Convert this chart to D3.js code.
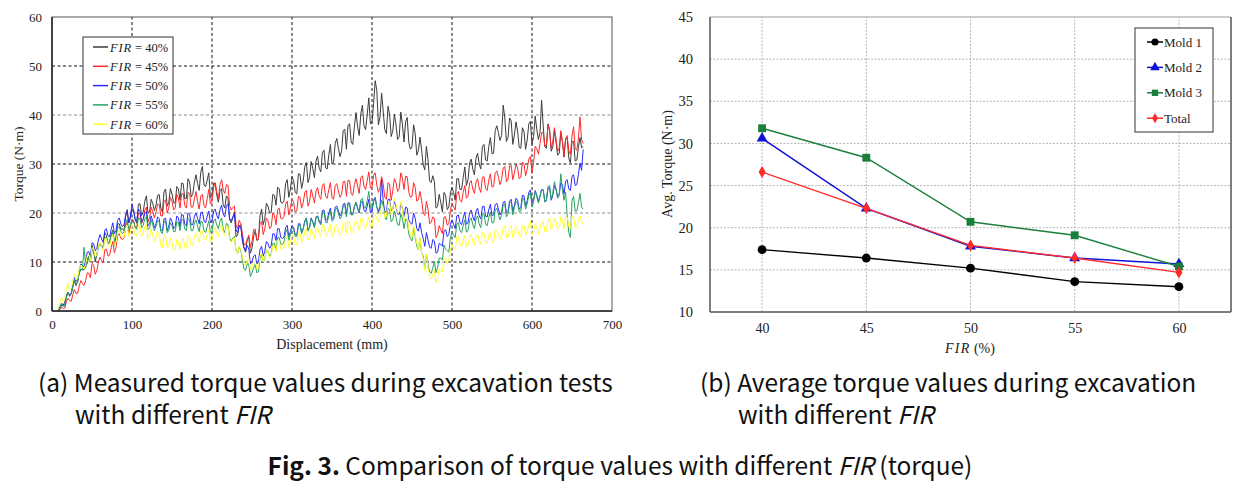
<!DOCTYPE html>
<html><head><meta charset="utf-8">
<script src="https://cdn.jsdelivr.net/npm/d3@7"></script>
<style>body{margin:0;background:#fff} svg{display:block}</style>
</head><body>
<svg id="c" width="1251" height="486"></svg>
<script>
// ---------- (a) measured torque ----------
// samples read at 8,12,...,664 mm (A) and at 10,14,...,662 mm (B)
const displacementA = d3.range(8, 665, 4);
const displacementB = d3.range(10, 663, 4);
const fir40 = [
0,1.5,1.8,3.8,3.5,6.2,6,8.5,8.4,10.6,
10,12.3,11.5,13.9,13,15.4,14.2,16.5,15.2,17.8,
16.8,19.2,18,20.8,18.7,21.8,19.5,22.4,20,22.8,
20.5,23.6,21,24.3,21.4,25,22.1,25.4,22.6,26,
23,26.3,23.8,27.8,24.6,29.5,25.4,28.2,23.6,26,
22.2,25,21,23,18,20.2,15.5,17.6,12.8,14.6,
11.8,15.2,14.4,19.5,17.6,22,20,23.8,21.6,25,
22,26,23.2,27.4,24.2,28,25,29.5,26.2,30.5,
27.2,31.6,28.4,32.8,29,34,30.4,35.2,31.5,36.8,
33,38.2,34,40.5,35.8,42,37,43.5,38.4,47,
38,44.5,37,41.8,35.6,40.2,35,40.6,34.5,39.5,
33,38,31.8,35.5,29.8,33.6,26.5,27.6,21,23.8,
20.2,23.6,21.2,25.2,22.6,27,24.8,29.4,26.8,31,
27.8,32.2,29,34,30.6,35.4,32.2,37.8,34.8,42,
34.6,39.4,34,38.6,33.4,37.4,33,38.2,34,39.8,
35,43,33.5,38.2,32.6,36.8,31.8,36.4,31.4,35.2,
30.2,34.6,30.8,35.4,33.6];
const fir40mid = [
1,1.2,3.3,3,5,5.2,7.8,8.4,8.9,11.2,
13.4,10,13.2,13.2,16,13.7,15.6,13.4,17.8,16.7,
16.4,20.7,18.9,20.6,17.9,21.9,20.2,23.5,20.2,21.9,
21.6,23.8,20.2,24.9,22.2,23.9,22,24.9,26.1,22.9,
27,23.3,26.3,26,28.4,25.7,26.7,23.1,26.1,23.6,
24.6,21.7,23.5,18.6,19,15.1,17.3,14.2,12,15.1,
12.8,16.4,14.6,20.8,18.9,21.4,20.1,23.6,25.2,22.2,
22.5,26.8,24.9,26.6,23.9,27.9,26.5,30.3,27.3,29.1,
30.6,29.1,32.3,29.2,31.8,30,34.2,33.2,32.7,37.1,
37.9,34.5,37.7,37.6,40.2,37.8,40,38.2,42.4,45,
39.6,40.8,36.2,40.1,36.8,38,35.6,38.1,38.6,34.4,
33.5,36.2,32.7,32.9,28.8,30.9,26.2,26.4,21.3,22.1,
24.2,20.7,24.1,24.2,27,24.8,27.2,25.6,30.2,28.9,
31.2,30,33.6,30.8,33.6,32.1,36.8,36.4,35.8,39.4,
35.4,38.8,35.9,36.7,33.2,36.6,34.9,38.7,35.6,37,
36.4,37.8,33.2,37,33.5,34.5,32.1,34.6,35.2,31.2,
34.6,30.6,33.4,33.3];
const fir45 = [
0,0.8,0.6,2.6,2,4.4,3.6,6.2,5.2,7.8,
6.8,9.4,8.2,11,9.8,12.6,11.4,14.2,13,15.8,
14.6,17.4,15.8,18.6,17,20,17.8,20.6,18.2,21.2,
19,21.8,19.4,22.4,20,23.2,20.6,23.8,21,24,
21,24,21.2,24.4,20.8,23.8,21,24.8,22.4,26.2,
23,26.8,24,25.6,20.6,21.4,16.8,17.8,13.6,14.6,
13,16.6,14.6,17.8,15.6,19,16.8,20,17.6,21,
18.8,21.8,19.6,22.8,20.2,23.4,21,24.2,21.4,24.8,
22,25.2,22.8,26,23,26.2,22.8,26,23.2,26.4,
23.4,26.6,23.6,27,24,27.6,24.8,28.4,25.2,28.2,
24.2,27.4,23.2,26.2,22.6,27,24.4,28.2,24.8,27.4,
23.2,26.2,22.4,24.4,20,22.4,17.8,19.2,15,17.4,
15.8,19.2,17.8,22,20.6,24.4,22.2,25.6,23.4,26.6,
24,27,24.2,27.4,24.6,28,25.4,28.6,25.8,29.2,
26.4,29.6,26.8,30,27,30.4,27.6,31,28.2,33.6,
32,36.4,33.6,38,33.2,37.4,32.6,36.8,31.6,35.8,
32,37.6,32.8,39.6,34.2];
const fir45mid = [
0.3,0.5,2,2.1,3.3,3.6,5.1,5.6,6.2,7.7,
9.7,7.5,10,10.3,12.5,11.2,12.9,11.9,15.4,14.8,
14.9,18.1,17,18.4,16.9,19.9,18.8,21.2,19,20.2,
20.2,21.8,19.4,22.7,21,22.4,21,23.1,23.9,21.5,
24.2,21.2,22.9,22.3,23.5,21.5,22.9,21.9,25.2,24.2,
25.8,24.7,25.8,21.5,21.1,17.6,18.5,15.8,13.6,15.5,
14.2,16.7,14.7,18.3,16.8,18.4,17.2,19.5,20.7,18.9,
19.3,22.4,21.1,22.2,20.4,23.2,22.1,24.6,22.4,23.5,
24.5,23.4,25.7,23.4,24.8,23.1,25.6,24.5,23.8,26.5,
26.7,23.9,25.8,25.5,27.2,25.4,26.6,25.1,27.7,25.7,
25.2,26,22.8,25.9,24.6,26.2,25,27.1,27.5,24.3,
23.4,25.2,22.7,22.6,19.5,20.8,18.1,18.9,15.6,16.6,
19.2,17.5,20.5,21.3,23.8,22.6,24.2,23,26.1,24.9,
26.3,25.1,27.3,25,26.7,25.3,28.1,27.3,26.8,29.5,
26.9,29.7,28.2,29.2,27.3,30,28.9,31.5,30.3,33.1,
34.2,36.4,34,36.8,34.5,35.2,33.2,34.7,35.1,32.7,
35.7,33.1,35.2,34.9];
const fir50 = [
0,1.2,1.2,3.8,3.6,6.8,6.4,9.6,9,12,
11,13.8,12.8,15.6,14,16.8,15.2,18,16.4,19,
17.2,19.6,18,21.8,18.6,20.8,18.2,20,17.4,19.4,
17,19.2,16.6,18.8,16.4,19,16.8,19.4,17.2,19.6,
17.4,19.8,17.6,20,17.8,20.2,18,20.4,18.4,20.8,
18.8,21.6,19.2,21.8,18.4,19.8,16,17,13,13.4,
9.6,11.2,9.6,12.6,11.2,14.2,12.8,15.8,14.4,16.8,
14.8,17,15.2,17.4,15.6,17.8,16,18.4,16.4,19,
17.2,19.4,17.8,20.6,18.6,21,19,21.4,19.4,21.8,
19.6,22,19.8,22.2,20,22.4,20.2,22.8,20.4,23.2,
20.4,26.8,20.2,22.8,20.4,22.4,19.8,22,19.2,21,
18,20,16.8,18,14.8,16,13,14.6,11.8,13.8,
13.2,16.6,15.6,18.6,16.8,19.6,17.6,20.2,18,20.6,
18.4,21,18.8,21.4,19.2,21.8,19.6,22,19.6,22.2,
20,22.4,20.2,23,20.8,23.6,21.4,24.2,22,24.6,
22.4,24.8,22.4,25,22.6,25.6,23.4,26.2,23.8,26.8,
24.6,27.8,25.8,30.2,33];
const fir50mid = [
0.5,1,2.9,3.3,5.2,6,8.3,9.3,10.2,12.1,
13.9,12.3,14.5,14.7,16.5,15.3,16.7,15.8,18.5,17.8,
17.6,20.3,19.4,20.4,18.4,20.3,18.7,20.3,17.8,18.3,
17.8,18.8,16.3,18.9,17.3,18.3,17.2,19,19.7,17.7,
20,17.6,19.3,18.9,20.1,18.4,19.3,18,20.4,19.5,
20.7,19.8,21.5,18.9,19.2,16.6,17.5,14.9,12.3,12.6,
10.1,11.5,9.9,13.2,12.2,13.8,13.3,15.7,16.8,15,
15.1,17.5,16.2,17.1,15.5,17.8,16.8,19,17.1,18.2,
19.2,18.4,20.5,18.6,20,18.8,21.2,20.4,19.8,22,
22.1,19.7,21.3,20.9,22.2,20.5,21.4,20,22.3,21.2,
21.3,22.5,20.2,22.8,20.8,21.3,19.7,21,21.2,18.6,
17.7,18.9,16.3,16,13.2,14.5,12.8,14.3,12,13.6,
16.3,15.2,17.7,17.7,19.4,18,19,17.7,20.1,19.2,
20.4,19.4,21.3,19.3,20.7,19.4,21.7,20.8,20.2,22.4,
20.3,22.8,21.6,22.6,21.1,23.5,22.5,24.7,22.7,23.6,
23.4,24.7,22.5,25.2,23.6,24.8,23.8,25.7,26.5,24.9,
27.5,25.6,27.9,28.7];
const fir55 = [
0,1.6,1,3.8,3.4,6.2,5.8,8.6,13,9.6,
10,12.2,11.4,13.8,12.8,15,14,16.2,15.2,17.2,
15.8,17.8,16.6,18.8,17,19,17,18.8,16.6,18.6,
16.4,18.4,16.2,18.2,16,18,16.2,18.2,16.4,18.6,
16.4,18.6,16.4,18.6,16.2,18.2,16,18.4,16.4,18.8,
16.8,19,16,17.6,14.2,15.2,11.8,12.4,8.6,9.6,
7,8.8,7.8,10.8,9.8,12.4,11.2,13.8,12.6,15,
13.6,16,14.4,17,15.2,17.4,15.8,18.2,16.4,18.8,
17,19.4,17.6,20.2,18,20.4,18.6,21,18.8,21.4,
19.2,21.8,19.6,22.2,20.2,23,21,24.4,21,23,
20,22.6,19.2,21,18.2,20.4,17.6,19.8,16.8,18.4,
14.8,17,13.2,14.8,11.2,11.6,8,8.8,7.8,10.8,
10.4,12.6,12,16,15,18,16,18.6,16.4,19,
16.8,19.4,17,19.8,17.4,20.2,18,21,18.6,21.6,
19.2,22,19.6,22.4,20.2,23,20.8,23.6,21.2,24.4,
22,24.8,22.2,25.4,22.8,26.4,23,28,22.6,19.5,
15,23.4,20.4,24,20.8];
const fir55mid = [
0.6,1.1,2.9,3.2,4.9,5.5,7.6,8.4,9.3,11,
12.4,10.7,13,13.2,15,13.8,15.2,14.3,17,16.3,
16.1,18.7,17.6,18.5,16.7,18.8,17.5,19.3,17,17.6,
17.3,18.3,15.8,18.3,16.5,17.4,16.2,18,18.7,16.7,
18.9,16.4,17.9,17.3,18.3,16.4,17.2,16,18.4,17.5,
18.4,16.7,17.9,14.9,14.9,12.3,13.1,10.4,8.3,9.6,
7.8,9.5,8,11.6,10.7,12.2,11.6,13.8,15,13.6,
14.1,16.7,15.6,16.7,15.2,17.6,16.7,19,17.1,18.1,
19,18.1,20.1,18.1,19.5,18.3,20.7,19.9,19.4,21.7,
21.9,19.6,21.3,21.1,22.7,21.3,22.5,21,22.8,21.2,
20.8,21.5,18.6,20.7,18.6,19.1,17.5,18.9,18.8,15.7,
14.3,15.2,12.5,11.8,8.6,9.5,7.7,10.1,8.9,10.8,
13.5,12.3,15,15.5,17.7,16.4,17.4,16.1,18.5,17.6,
18.8,17.8,19.7,17.7,19.1,18,20.5,19.8,19.5,21.8,
19.8,22.3,21.1,22,20.4,22.8,21.9,24.2,22.3,23.3,
23.3,24.8,22.8,25.6,24,25,23.6,24.8,24.2,16,
22.6,20.4,22,21.2];
const fir60 = [
0.5,2.8,2.4,5.6,4.6,7.6,6.6,9.4,8.6,11.2,
10.2,12.8,11.4,14,12.4,14.8,13.2,15.6,14,16.4,
14.8,17,15.2,17.6,15.4,17.6,15.2,17.2,14.8,16.8,
14.2,16.2,13.4,15.6,13,15,12.4,14.6,12.6,14.8,
12.8,15.2,13.4,15.8,14,16.4,14.4,16.6,14.4,17,
15.2,17.6,15.4,17.2,14,15,11.8,12.6,9.6,10.4,
8.4,10.2,8.6,11.2,10,12.4,10.8,13.4,12,14.4,
12.6,14.8,13,15.4,13.6,15.8,14,16.2,14.4,16.8,
14.8,17,15.2,17.4,15.4,17.6,15.4,17.6,15.4,17.8,
15.8,18,16,18.4,16.4,18.8,16.8,19.2,17.4,19.8,
18.2,20.8,19,21.8,19.6,23,20,22.4,18.2,19.6,
15.6,17.6,13.8,15,10.8,11.6,7,7.4,5.8,8.6,
8,10.6,10.4,13.6,12.6,15.2,13.2,15.4,13.4,15.6,
13.4,15.6,13.6,15.8,13.8,16,14,16.4,14.6,17,
15,17,15,17.2,15.2,17.4,15.4,17.6,15.6,17.8,
15.8,18.2,16.2,18.6,16.6,19,16.8,19.2,16.8,19.2,
16.8,19.2,17,19.4,17.8];
const fir60mid = [
1.6,2.1,4.5,4.4,6.1,6.3,8.6,9,9.5,11.5,
12.9,11.1,13.2,13.1,14.7,13.3,14.5,13.4,16,15.3,
15.1,17.5,16.2,17,15.2,17.3,15.9,17.7,15.2,15.5,
14.8,15.6,12.9,15.2,13.2,13.9,12.5,14.1,14.8,13,
15.4,13.3,15.2,15,16.4,14.8,15.6,14.1,16.5,15.8,
17.1,15.9,17.4,14.5,14.7,12.3,13.3,11.1,9.3,10.7,
9,10.4,8.6,11.9,10.7,12,11.2,13.3,14.4,12.7,
12.9,15.3,14.2,15.1,13.5,15.8,14.8,17,15,15.9,
16.7,15.7,17.6,15.5,16.7,15.3,17.5,16.5,15.9,18.2,
18.4,16.1,17.8,17.5,18.9,17.3,18.3,17,19.5,18.8,
19.5,21.2,19.4,22.4,20.9,21.8,20.2,20.8,20,16.6,
15,15.6,12.6,11.7,8.3,8.9,6.6,8.4,6.8,8.5,
11,9.7,12.4,13,15,13.5,14.5,13.1,15.3,14.2,
15.3,14.2,16.1,14,15.3,14.1,16.5,15.7,15.2,17.4,
15.1,17.5,16.1,16.9,15.2,17.4,16.3,18.4,16.3,17.1,
16.9,18.3,16.2,19,17.4,18.3,17,18.6,19.2,17.2,
19.4,17.1,18.7,18.4];
const firSeries = [[fir40, fir40mid], [fir45, fir45mid], [fir50, fir50mid], [fir55, fir55mid], [fir60, fir60mid]];
const firLabels = ["40%", "45%", "50%", "55%", "60%"];
const firColors = ["#3d3d3d", "#ff2a2a", "#2b2bff", "#27a35f", "#ffff2e"];
const leftXTicks = [0, 100, 200, 300, 400, 500, 600, 700];
const leftYTicks = [0, 10, 20, 30, 40, 50, 60];

// ---------- (b) average torque ----------
const firCategories = [40, 45, 50, 55, 60];
const mold1 = [17.4, 16.4, 15.2, 13.6, 13.0];
const mold2 = [30.6, 22.3, 17.8, 16.4, 15.7];
const mold3 = [31.8, 28.3, 20.7, 19.1, 15.4];
const totalAvg = [26.6, 22.3, 17.9, 16.4, 14.7];
const avgNames = ["Mold 1", "Mold 2", "Mold 3", "Total"];
const avgColors = ["#000000", "#1010d8", "#1b7f3c", "#ff2a2a"];
const rightYTicks = [10, 15, 20, 25, 30, 35, 40, 45];

const svg = d3.select("#c");
const serif = "'Liberation Serif','Times New Roman',Times,serif";
const sans = "'Noto Sans CJK KR','Noto Sans',sans-serif";

// ================= LEFT CHART =================
const xL = d3.scaleLinear().domain([0, 700]).range([52, 612]);
const yL = d3.scaleLinear().domain([0, 60]).range([311, 17]);
const gL = svg.append("g");

gL.selectAll("line.vg").data(leftXTicks.filter(d => d > 0 && d < 700)).join("line")
  .attr("x1", d => xL(d)).attr("x2", d => xL(d)).attr("y1", yL(0)).attr("y2", yL(60))
  .attr("stroke", "#111").attr("stroke-width", 1).attr("stroke-dasharray", "3,2.5");
gL.selectAll("line.hg").data(leftYTicks.filter(d => d > 0 && d < 60)).join("line")
  .attr("x1", xL(0)).attr("x2", xL(700)).attr("y1", d => yL(d)).attr("y2", d => yL(d))
  .attr("stroke", d => (d % 20 === 0) ? "#8a8a8a" : "#111").attr("stroke-width", 1)
  .attr("stroke-dasharray", "3,2.5");

const lineL = d3.line().x(d => xL(d[0])).y(d => yL(d[1]));
firSeries.forEach(([a, b], k) => {
  const pts = a.map((v, i) => [displacementA[i], v])
    .concat(b.map((v, i) => [displacementB[i], v]))
    .sort((p, q) => p[0] - q[0]);
  gL.append("path").datum(pts).attr("d", lineL).attr("fill", "none")
    .attr("stroke", firColors[k]).attr("stroke-width", 1).attr("stroke-linejoin", "round");
});

gL.append("rect").attr("x", xL(0)).attr("y", yL(60)).attr("width", xL(700) - xL(0)).attr("height", yL(0) - yL(60))
  .attr("fill", "none").attr("stroke", "#555").attr("stroke-width", 1);
gL.append("line").attr("x1", xL(0)).attr("x2", xL(0)).attr("y1", yL(0)).attr("y2", yL(60)).attr("stroke", "#222").attr("stroke-width", 1.5);
gL.append("line").attr("x1", xL(0)).attr("x2", xL(700)).attr("y1", yL(0)).attr("y2", yL(0)).attr("stroke", "#222").attr("stroke-width", 1.5);

const axL = d3.axisBottom(xL).tickValues(leftXTicks).tickSize(0).tickPadding(9);
gL.append("g").attr("transform", `translate(0,${yL(0)})`).call(axL)
  .call(g => g.select(".domain").remove())
  .selectAll("text").style("font-family", serif).style("font-size", "13px").attr("fill", "#222");
const ayL = d3.axisLeft(yL).tickValues(leftYTicks).tickSize(0).tickPadding(10);
gL.append("g").attr("transform", `translate(${xL(0)},0)`).call(ayL)
  .call(g => g.select(".domain").remove())
  .selectAll("text").style("font-family", serif).style("font-size", "13px").attr("fill", "#222");

gL.append("text").attr("x", 332).attr("y", 349).attr("text-anchor", "middle")
  .style("font-family", serif).style("font-size", "14px").attr("fill", "#222").text("Displacement (mm)");
gL.append("text").attr("transform", "translate(23,164) rotate(-90)").attr("text-anchor", "middle")
  .style("font-family", serif).style("font-size", "13.5px").attr("fill", "#222").text("Torque (N·m)");

const lgL = gL.append("g");
lgL.append("rect").attr("x", 83).attr("y", 37).attr("width", 90).attr("height", 97)
  .attr("fill", "#fff").attr("stroke", "#333").attr("stroke-width", 1);
firLabels.forEach((lab, i) => {
  const yy = 47 + i * 19.3;
  lgL.append("line").attr("x1", 93).attr("x2", 108).attr("y1", yy).attr("y2", yy)
    .attr("stroke", firColors[i]).attr("stroke-width", 1.5);
  const t = lgL.append("text").attr("x", 110).attr("y", yy + 4.5)
    .style("font-family", serif).style("font-size", "12.5px").attr("fill", "#222");
  t.append("tspan").style("font-style", "italic").attr("letter-spacing", 0.8).text("FIR");
  t.append("tspan").text(" = " + lab);
});

// ================= RIGHT CHART =================
const xR = d3.scaleLinear().domain([37.5, 62.5]).range([710, 1231]);
const yR = d3.scaleLinear().domain([10, 45]).range([312, 17]);
const gR = svg.append("g");

gR.selectAll("line.vg").data(firCategories).join("line")
  .attr("x1", d => xR(d)).attr("x2", d => xR(d)).attr("y1", yR(10)).attr("y2", yR(45))
  .attr("stroke", "#b5b5b5").attr("stroke-width", 1).attr("stroke-dasharray", "2,1.5");
gR.selectAll("line.hg").data(rightYTicks.filter(d => d > 10 && d < 45)).join("line")
  .attr("x1", xR(37.5)).attr("x2", xR(62.5)).attr("y1", d => yR(d)).attr("y2", d => yR(d))
  .attr("stroke", "#b5b5b5").attr("stroke-width", 1).attr("stroke-dasharray", "2,1.5");

gR.append("line").attr("x1", xR(37.5)).attr("x2", xR(62.5)).attr("y1", yR(45)).attr("y2", yR(45)).attr("stroke", "#999").attr("stroke-width", 1);
gR.append("line").attr("x1", xR(62.5)).attr("x2", xR(62.5)).attr("y1", yR(10)).attr("y2", yR(45)).attr("stroke", "#555").attr("stroke-width", 1.5);
gR.append("line").attr("x1", xR(37.5)).attr("x2", xR(37.5)).attr("y1", yR(10)).attr("y2", yR(45)).attr("stroke", "#555").attr("stroke-width", 1.5);
gR.append("line").attr("x1", xR(37.5)).attr("x2", xR(62.5)).attr("y1", yR(10)).attr("y2", yR(10)).attr("stroke", "#555").attr("stroke-width", 1.5);

const axR = d3.axisBottom(xR).tickValues(firCategories).tickSize(0).tickPadding(11);
gR.append("g").attr("transform", `translate(0,${yR(10)})`).call(axR)
  .call(g => g.select(".domain").remove())
  .selectAll("text").style("font-family", serif).style("font-size", "14px").attr("fill", "#222");
const ayR = d3.axisLeft(yR).tickValues(rightYTicks).tickSize(0).tickPadding(17);
gR.append("g").attr("transform", `translate(${xR(37.5)},0)`).call(ayR)
  .call(g => g.select(".domain").remove())
  .selectAll("text").style("font-family", serif).style("font-size", "14.5px").attr("fill", "#222");

const xlabR = gR.append("text").attr("x", 970).attr("y", 353).attr("text-anchor", "middle")
  .style("font-family", serif).style("font-size", "14px").attr("fill", "#222");
xlabR.append("tspan").style("font-style", "italic").attr("letter-spacing", 1.2).text("FIR");
xlabR.append("tspan").text(" (%)");
gR.append("text").attr("transform", "translate(672,164) rotate(-90)").attr("text-anchor", "middle")
  .style("font-family", serif).style("font-size", "14px").attr("fill", "#222").text("Avg. Torque (N·m)");

const avgSeries = [mold1, mold2, mold3, totalAvg];
const symTypes = [d3.symbolCircle, d3.symbolTriangle, d3.symbolSquare, d3.symbolDiamond];
const symSizes = [62, 52, 62, 42];
const lineR = d3.line().x((d, i) => xR(firCategories[i])).y(d => yR(d));
avgSeries.forEach((s, k) => {
  gR.append("path").datum(s).attr("d", lineR).attr("fill", "none")
    .attr("stroke", avgColors[k]).attr("stroke-width", 1.4);
  gR.selectAll(null).data(s).join("path")
    .attr("transform", (d, i) => `translate(${xR(firCategories[i])},${yR(d)})`)
    .attr("d", d3.symbol().type(symTypes[k]).size(symSizes[k])()).attr("fill", avgColors[k]);
});

const lgR = gR.append("g");
lgR.append("rect").attr("x", 1135).attr("y", 28).attr("width", 78).attr("height", 104)
  .attr("fill", "#fff").attr("stroke", "#333").attr("stroke-width", 1);
avgNames.forEach((n, i) => {
  const yy = 42 + i * 25.4;
  lgR.append("line").attr("x1", 1147).attr("x2", 1163).attr("y1", yy).attr("y2", yy)
    .attr("stroke", avgColors[i]).attr("stroke-width", 1.5);
  lgR.append("path").attr("transform", `translate(1155,${yy})`)
    .attr("d", d3.symbol().type(symTypes[i]).size(i === 3 ? 30 : 40)())
    .attr("fill", avgColors[i]);
  lgR.append("text").attr("x", 1164).attr("y", yy + 4.5).style("font-family", serif)
    .style("font-size", "13px").attr("fill", "#222").text(n);
});

// ================= CAPTIONS =================
function fit(t, w) {
  const fs = parseFloat(t.attr("font-size"));
  const cw = t.node().getComputedTextLength();
  t.attr("font-size", fs * w / cw);
}
const capA1 = svg.append("text").attr("x", 38).attr("y", 392).attr("font-family", sans).attr("font-size", 23).attr("fill", "#111")
  .text("(a) Measured torque values during excavation tests");
fit(capA1, 575);
const fsCap = parseFloat(capA1.attr("font-size"));
const capA2 = svg.append("text").attr("x", 75).attr("y", 424).attr("font-family", sans).attr("font-size", fsCap).attr("fill", "#111");
capA2.append("tspan").text("with different ");
capA2.append("tspan").attr("font-style", "italic").text("FIR");
const capB1 = svg.append("text").attr("x", 700).attr("y", 392).attr("font-family", sans).attr("font-size", fsCap).attr("fill", "#111")
  .text("(b) Average torque values during excavation");
const capB2 = svg.append("text").attr("x", 738).attr("y", 424).attr("font-family", sans).attr("font-size", fsCap).attr("fill", "#111");
capB2.append("tspan").text("with different ");
capB2.append("tspan").attr("font-style", "italic").text("FIR");
const capF = svg.append("text").attr("x", 620).attr("y", 475).attr("text-anchor", "middle").attr("font-family", sans).attr("font-size", fsCap).attr("fill", "#111");
capF.append("tspan").attr("font-weight", "bold").text("Fig. 3.");
capF.append("tspan").text(" Comparison of torque values with different ");
capF.append("tspan").attr("font-style", "italic").text("FIR");
capF.append("tspan").text(" (torque)");
</script>
</body></html>
